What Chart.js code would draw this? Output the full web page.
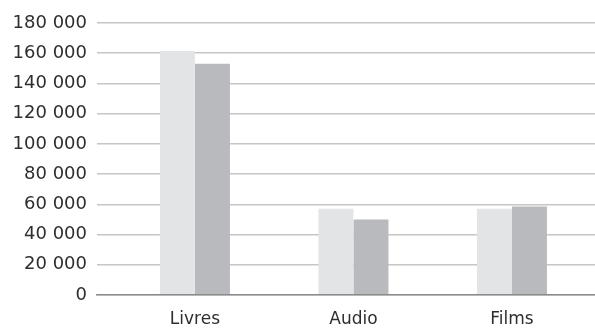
<!DOCTYPE html>
<html>
<head>
<meta charset="utf-8">
<script src="https://cdn.jsdelivr.net/npm/chart.js@4"></script>
<style>
  body { margin: 0; background: #fff; }
  .box { width: 595px; height: 329px; }
</style>
</head>
<body>
<div class="box"><canvas id="myChart"></canvas></div>
<script>
const categories = ['Livres', 'Audio', 'Films'];
const serie1 = [161500, 57000, 57000];
const serie2 = [153000, 50000, 58500];
const yTicks = [0, 20000, 40000, 60000, 80000, 100000, 120000, 140000, 160000, 180000];

// positions along a linear x axis, one per category
function points(values) {
  return values.map(function (v, i) { return { x: i, y: v }; });
}
function espace(n) {
  return String(n).replace(/\B(?=(\d{3})+(?!\d))/g, ' ');
}

const data = {
  datasets: [{
    label: 'Série 1',
    data: points(serie1),
    backgroundColor: '#e3e4e6',
    borderWidth: 0,
    barPercentage: 1,
    categoryPercentage: 0.4416
  }, {
    label: 'Série 2',
    data: points(serie2),
    backgroundColor: '#b9babd',
    borderWidth: 0,
    barPercentage: 1,
    categoryPercentage: 0.4416
  }]
};

const config = {
  type: 'bar',
  data: data,
  options: {
    responsive: true,
    maintainAspectRatio: false,
    animation: false,
    layout: { padding: { top: 23, right: 0, left: 0, bottom: 0 } },
    plugins: { legend: { display: false }, tooltip: { enabled: false } },
    scales: {
      x: {
        type: 'linear',
        offset: false,
        min: -0.618,
        max: 2.524,
        grid: { display: false, drawTicks: false },
        border: { display: true, color: '#8c8c8c', width: 1.5, z: 1 },
        ticks: {
          stepSize: 1,
          includeBounds: false,
          autoSkip: false,
          maxRotation: 0,
          padding: 14,
          color: '#2e2e2e',
          font: { family: 'DejaVu Sans', size: 17 },
          callback: function (v) { return categories[v] !== undefined ? categories[v] : ''; }
        },
        afterFit: function (s) { s.height = 34; }
      },
      y: {
        min: 0,
        max: 180000,
        afterBuildTicks: function (s) { s.ticks = yTicks.map(function (v) { return { value: v }; }); },
        grid: { color: '#c6c6c6', lineWidth: 1.5, drawTicks: false },
        border: { display: false },
        ticks: {
          padding: 10,
          color: '#2e2e2e',
          font: { family: 'DejaVu Sans', size: 18 },
          callback: function (v) { return espace(v); }
        },
        afterFit: function (s) { s.width = 97; }
      }
    }
  }
};

const myChart = new Chart(document.getElementById('myChart').getContext('2d'), config);
</script>
</body>
</html>
